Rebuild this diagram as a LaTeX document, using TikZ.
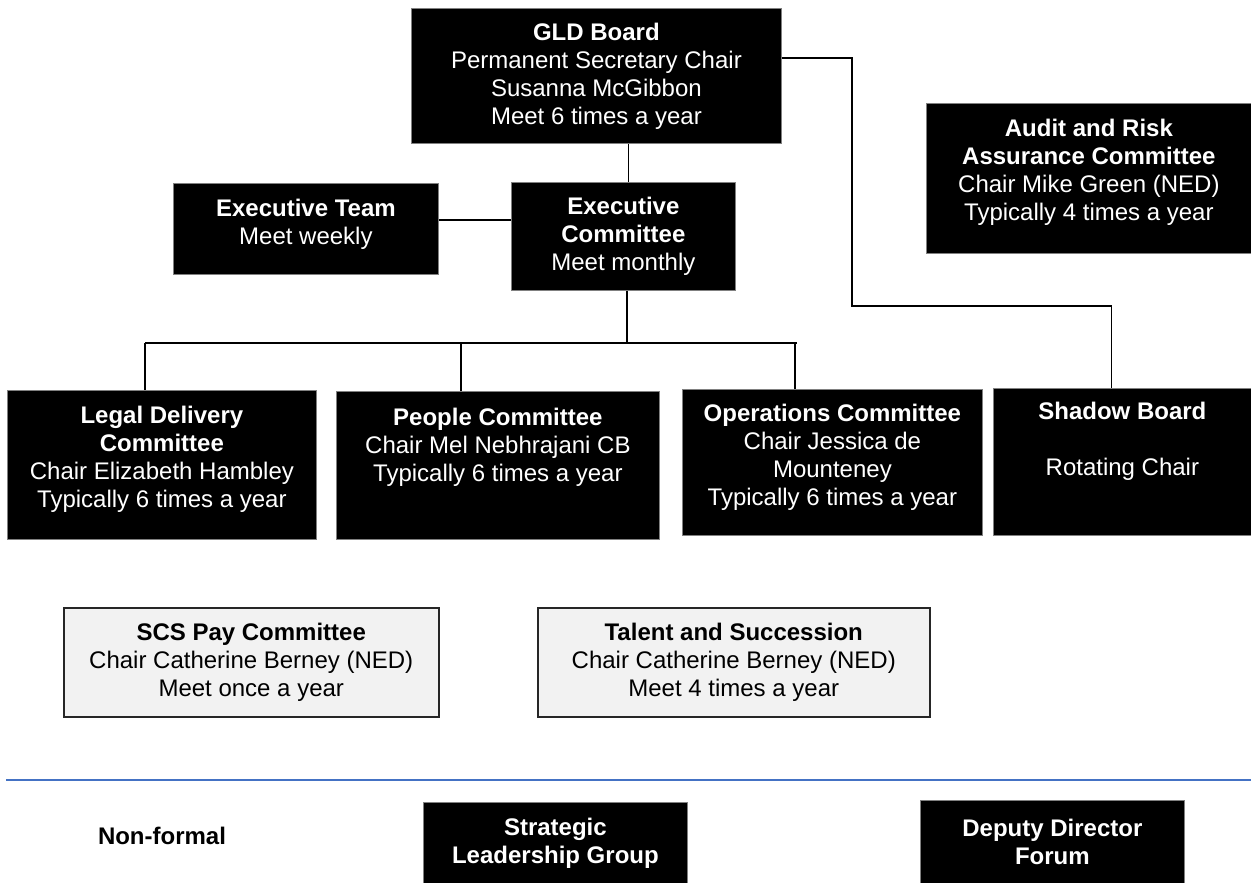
\documentclass[tikz,border=0pt]{standalone}
\usepackage{fontspec}
\setmainfont{Liberation Sans}
\usetikzlibrary{positioning,calc}
\definecolor{Rule}{HTML}{4472C4}
\definecolor{Pale}{HTML}{F2F2F2}
\definecolor{Edge}{HTML}{808080}
\newcommand{\padbot}[1]{\\[#1]\mbox{}}
\tikzset{
  boxtext/.style={align=center,anchor=north west,inner sep=2pt,font=\fontsize{24}{28}\selectfont},
  blkbox/.style={boxtext,draw=Edge,fill=black,text=white,line width=0.8pt},
  palebox/.style={boxtext,draw=black!85,fill=Pale,line width=1.5pt},
  conn/.style={line width=1.6pt,draw=black},
  rule/.style={line width=2pt,draw=Rule}
}

\begin{document}
\begin{tikzpicture}[x=1pt,y=-1pt]
  \fill[white] (0,0) rectangle (1251,883);
  \useasboundingbox (0,0) rectangle (1251,883);
  % formal structure
  \node[blkbox,minimum width=370pt,minimum height=135pt] (gld) at (411,8) {\textbf{GLD Board}\\Permanent Secretary Chair\\Susanna McGibbon\\Meet 6 times a year};
  \node[blkbox,minimum width=265pt,minimum height=91pt] (exteam) at (173,183) {\textbf{Executive Team}\\Meet weekly\padbot{-13pt}};
  \node[blkbox,minimum width=224pt,minimum height=108pt] (excom) at (511,182) {\textbf{Executive}\\\textbf{Committee}\\Meet monthly};
  \node[blkbox,minimum width=325pt,minimum height=150pt] (audit) at (926,103) {\textbf{Audit and Risk}\\\textbf{Assurance Committee}\\Chair Mike Green (NED)\\Typically 4 times a year\padbot{-11pt}};
  \node[blkbox,minimum width=309pt,minimum height=149pt] (legal) at (7,390) {\textbf{Legal Delivery}\\\textbf{Committee}\\Chair Elizabeth Hambley\\Typically 6 times a year\padbot{-11pt}};
  \node[blkbox,minimum width=323pt,minimum height=148pt] (people) at (336,391) {\textbf{People Committee}\\Chair Mel Nebhrajani CB\\Typically 6 times a year\padbot{14pt}};
  \node[blkbox,minimum width=300pt,minimum height=146pt] (ops) at (682,389) {\textbf{Operations Committee}\\Chair Jessica de\\Mounteney\\Typically 6 times a year\padbot{-13pt}};
  \node[blkbox,minimum width=258pt,minimum height=147pt] (shadow) at (993,388) {\textbf{Shadow Board}\\\mbox{}\\Rotating Chair\padbot{18pt}};
  \node[palebox,minimum width=375pt,minimum height=109pt] (scs) at (63,607) {\textbf{SCS Pay Committee}\\Chair Catherine Berney (NED)\\Meet once a year};
  \node[palebox,minimum width=392pt,minimum height=109pt] (talent) at (537,607) {\textbf{Talent and Succession}\\Chair Catherine Berney (NED)\\Meet 4 times a year};
  % non-formal groups
  \draw[rule] (6,780) -- (1251,780);
  \node[font=\fontsize{24}{28}\selectfont\bfseries] (nonformal) at (162,836) {Non-formal};
  \node[blkbox,minimum width=264pt,minimum height=81pt] (slg) at (423,802) {\textbf{Strategic}\\\textbf{Leadership Group}};
  \node[blkbox,minimum width=264pt,minimum height=83pt] (ddf) at (920,800) {\textbf{Deputy Director}\\\textbf{Forum}};
  % connectors
  \coordinate (bus) at (627,343);
  \coordinate (busL) at (145,343);
  \coordinate (busP) at (461,343);
  \coordinate (busO) at (795,343);
  \coordinate (busR) at (797,343);
  \coordinate (elbow) at (852,306);
  \draw[conn] ([xshift=5pt]excom.north) -- ([xshift=5pt]excom.north |- gld.south);
  \draw[conn] ([yshift=9pt]exteam.east) -- ([yshift=9pt]exteam.east -| excom.west);
  \draw[conn] (bus |- excom.south) -- (bus);
  \draw[conn] (busL) -- (busR);
  \draw[conn] (busL) -- (busL |- legal.north);
  \draw[conn] (busP) -- (busP |- people.north);
  \draw[conn] (busO) -- (busO |- ops.north);
  \draw[conn] ([yshift=18pt]gld.east) -| (elbow) -| ([xshift=-11pt]shadow.north);
\end{tikzpicture}
\end{document}
